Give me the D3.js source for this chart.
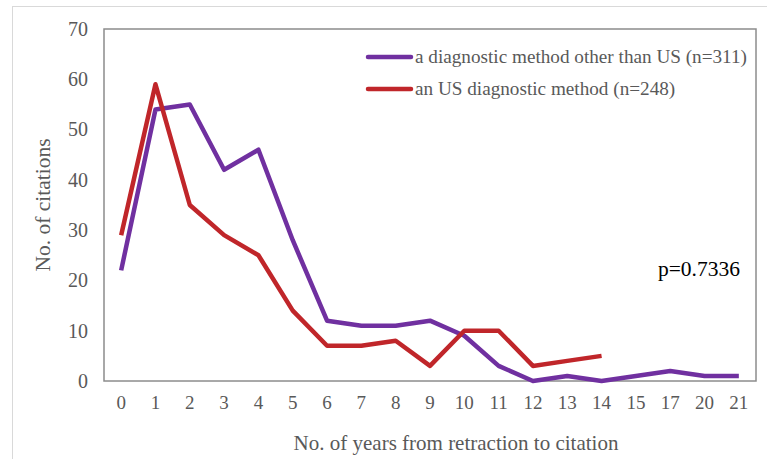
<!DOCTYPE html>
<html>
<head>
<meta charset="utf-8">
<script src="https://cdnjs.cloudflare.com/ajax/libs/d3/7.8.5/d3.min.js"></script>
<style>
 body{margin:0;background:#fff;}
 text{font-family:"Liberation Serif","Times New Roman",serif;}
</style>
</head>
<body>
<div id="chart"></div>
<script>
// years from retraction to citation
var years = ["0","1","2","3","4","5","6","7","8","9","10","11","12","13","14","15","17","20","21"];
var otherVals = [22,54,55,42,46,28,12,11,11,12,9,3,0,1,0,1,2,1,1];
var usVals = [29,59,35,29,25,14,7,7,8,3,10,10,3,4,5];
var yTicks = [0,10,20,30,40,50,60,70];
var seriesNames = ["a diagnostic method other than US (n=311)","an US diagnostic method (n=248)"];
var colors = ["#7030a0","#c0262a"];

var W = 767, H = 459;
var mLeft = 104, mTop = 29, mRight = 756, mBottom = 381;

var svg = d3.select("#chart").append("svg")
    .attr("width", W)
    .attr("height", H);

// outer frame
svg.append("rect").attr("x",12.5).attr("y",6.5).attr("width",780).attr("height",480)
    .attr("fill","none").attr("stroke","#d9d9d9").attr("stroke-width",1);

var x = d3.scaleBand().domain(years).range([mLeft, mRight]);
var y = d3.scaleLinear().domain([0,70]).range([mBottom, mTop]);

// plot box
svg.append("rect").attr("x",mLeft).attr("y",mTop).attr("width",mRight-mLeft).attr("height",mBottom-mTop)
    .attr("fill","none").attr("stroke","#8c8c8c").attr("stroke-width",1.5);

var yAxis = svg.append("g").attr("transform","translate("+mLeft+",0)")
    .call(d3.axisLeft(y).tickValues(yTicks).tickSize(0).tickPadding(16));
yAxis.select(".domain").remove();
yAxis.selectAll("text").attr("font-size",20).attr("fill","#595959")
    .attr("font-family","Liberation Serif");

var xAxis = svg.append("g").attr("transform","translate(0,"+mBottom+")")
    .call(d3.axisBottom(x).tickSize(0).tickPadding(15));
xAxis.select(".domain").remove();
xAxis.selectAll("text").attr("font-size",19).attr("fill","#595959")
    .attr("font-family","Liberation Serif");

var line = d3.line()
    .x(function(d,i){ return x(years[i]) + x.bandwidth()/2; })
    .y(function(d){ return y(d); });

[otherVals, usVals].forEach(function(vals, k){
    svg.append("path").datum(vals)
        .attr("d", line)
        .attr("fill","none")
        .attr("stroke", colors[k])
        .attr("stroke-width",4.5)
        .attr("stroke-linejoin","round");
});

// legend
seriesNames.forEach(function(name, k){
    var ly = 57 + k*32;
    svg.append("line").attr("x1",368).attr("x2",411).attr("y1",ly).attr("y2",ly)
        .attr("stroke",colors[k]).attr("stroke-width",4.5).attr("stroke-linecap","round");
    svg.append("text").attr("x",415).attr("y",ly+6)
        .attr("font-size",19.2).attr("fill","#595959").text(name);
});

svg.append("text").attr("x",740).attr("y",276).attr("text-anchor","end")
    .attr("font-size",21.5).attr("fill","#000").text("p=0.7336");

svg.append("text").attr("x",456).attr("y",450).attr("text-anchor","middle")
    .attr("font-size",21).attr("fill","#595959").text("No. of years from retraction to citation");

svg.append("text").attr("transform","translate(50,"+((mTop+mBottom)/2)+") rotate(-90)")
    .attr("text-anchor","middle")
    .attr("font-size",21.5).attr("fill","#595959").text("No. of citations");
</script>
</body>
</html>
